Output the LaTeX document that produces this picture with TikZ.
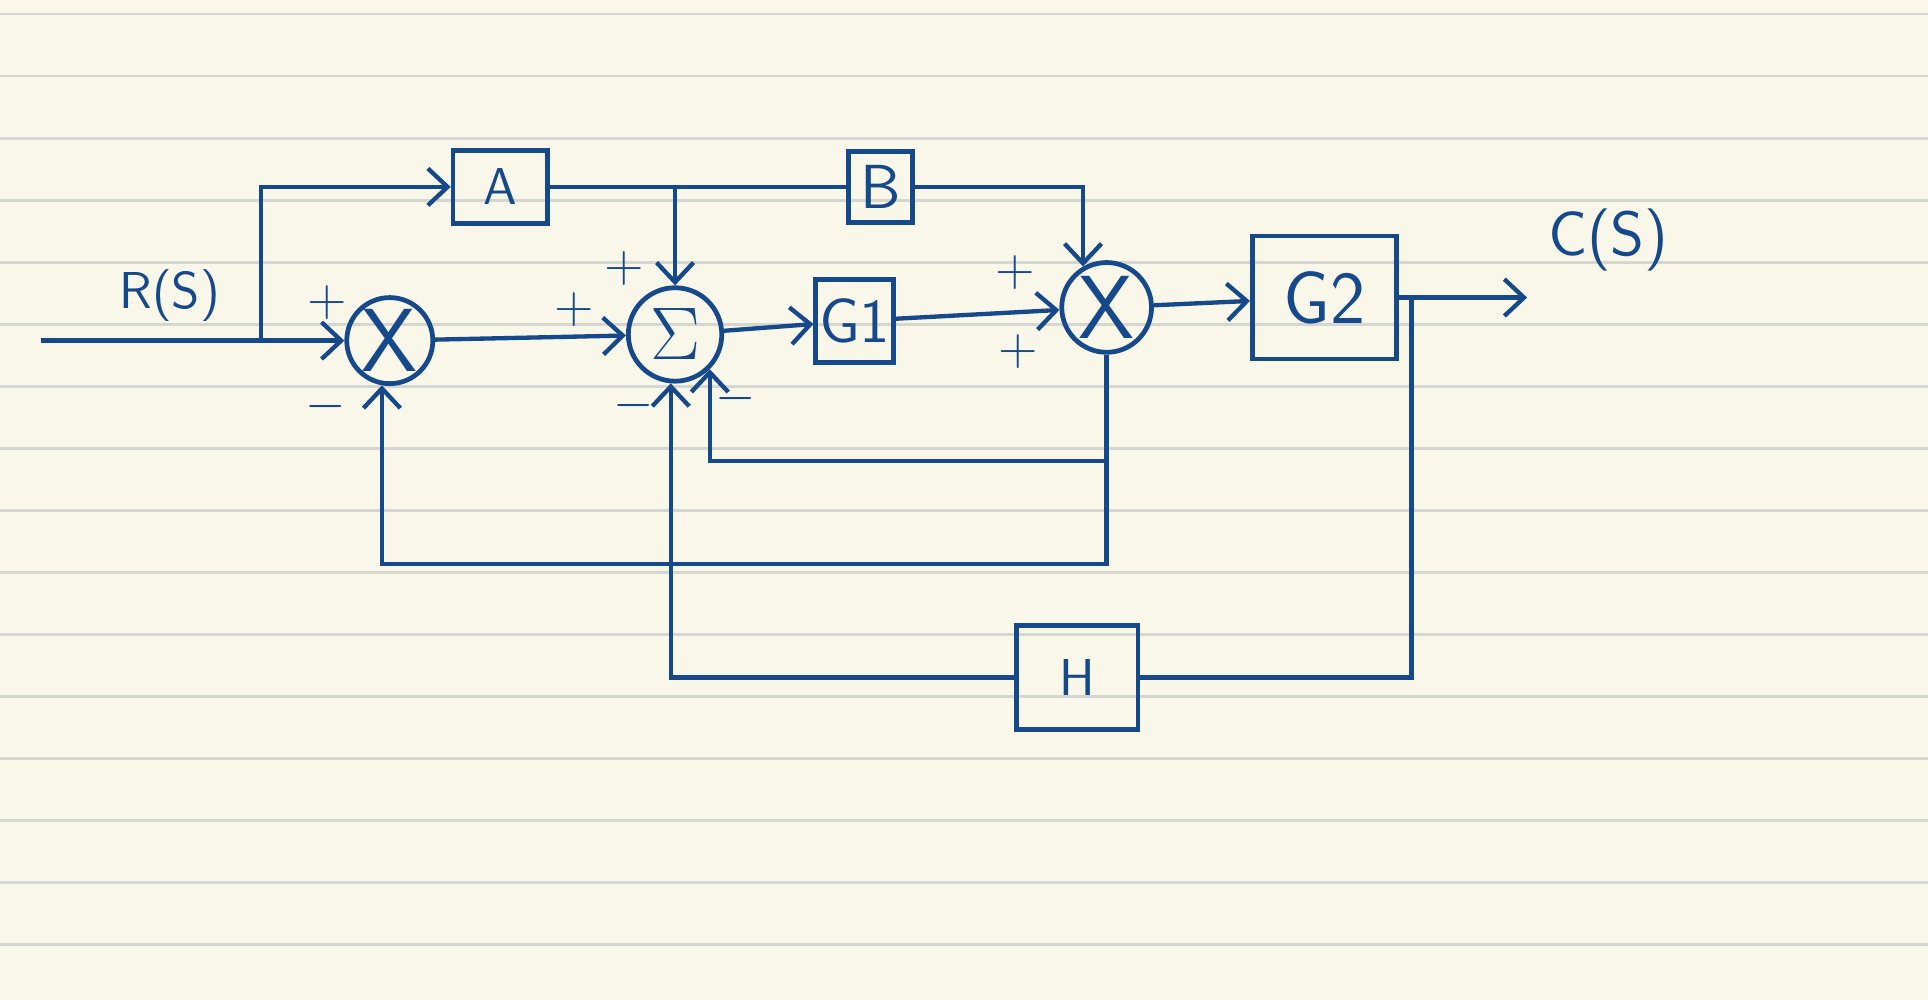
\documentclass[tikz,border=0pt]{standalone}
\usepackage{tikz}
\usetikzlibrary{arrows.meta,positioning}
\definecolor{ink}{RGB}{22,72,140}
\definecolor{paper}{RGB}{249,247,234}
\definecolor{ruling}{RGB}{214,214,208}
\tikzset{
  block/.style={draw,line width=1.1pt,rectangle,inner sep=0pt,font=\sffamily},
  junction/.style={draw,line width=1.1pt,circle,inner sep=0pt},
  sign/.style={font=\sffamily\large,inner sep=0pt},
  signal/.style={font=\sffamily,inner sep=0pt}
}
\begin{document}
\begin{tikzpicture}[>={Straight Barb[length=1.6mm,width=3mm]},line width=1pt,color=ink]
  % paper
  \useasboundingbox (0,0) rectangle (15.68,-8.13);
  \fill[paper] (0,0) rectangle (15.68,-8.13);
  \foreach \k in {0,...,15}
    \draw[ruling,line width=0.6pt] (0,{-0.115-0.5045*\k}) -- (15.68,{-0.115-0.5045*\k});

  % junctions and blocks
  \node[junction,minimum size=7mm,font=\sffamily\huge]  (mult1) at (3.17,-2.77) {X};
  \node[junction,minimum size=7.6mm,font=\LARGE]        (sigma) at (5.49,-2.72) {$\Sigma$};
  \node[junction,minimum size=7.3mm,font=\sffamily\huge] (mult2) at (9.00,-2.50) {X};
  \node[block,minimum width=7.7mm,minimum height=5.9mm,font=\sffamily\large] (a) at (4.07,-1.52) {A};
  \node[block,minimum width=5.2mm,minimum height=5.8mm,font=\sffamily\Large] (b) at (7.16,-1.52) {B};
  \node[block,minimum width=6.3mm,minimum height=6.7mm,font=\sffamily\Large] (g1) at (6.95,-2.61) {G1};
  \node[block,minimum width=11.7mm,minimum height=10mm,font=\sffamily\LARGE] (g2) at (10.77,-2.42) {G2};
  \node[block,minimum width=9.9mm,minimum height=8.5mm,font=\sffamily\large] (h) at (8.76,-5.51) {H};

  % signals
  \coordinate (in)   at (0.33,-2.77);
  \coordinate (rtap) at (2.12,-2.77);
  \coordinate (out)  at (12.42,-2.42);
  \coordinate (otap) at (11.48,-2.42);
  \coordinate (atap) at (sigma |- a.east);
  \coordinate (innery) at (0,-3.75);
  \coordinate (fbtap) at (mult2.south |- innery);
  \node[signal] (rs) at (1.38,-2.40) {\large R(S)};
  \node[signal] (cs) at (13.08,-1.95) {\Large C(S)};

  % signs
  \node[sign] (p1) at (2.66,-2.46) {+};
  \node[sign] (m1) at (2.65,-3.31) {$-$};
  \node[sign] (p2) at (4.67,-2.52) {+};
  \node[sign] (p3) at (5.08,-2.18) {+};
  \node[sign] (m2) at (5.15,-3.30) {$-$};
  \node[sign] (m3) at (5.98,-3.24) {$-$};
  \node[sign] (p4) at (8.26,-2.22) {+};
  \node[sign] (p5) at (8.28,-2.86) {+};

  % forward path
  \draw[->] (in) -- (mult1);
  \draw[->] (rtap) |- (a.west);
  \draw (a.east) -- (b.west);
  \draw[->] (atap) -- (sigma.north);
  \draw[->] (b.east) -| (mult2.120);
  \draw[->] (mult1) -- (sigma);
  \draw[->] (sigma) -- (g1);
  \draw[->] (g1) -- (mult2);
  \draw[->] (mult2) -- (g2);
  \draw[->] (g2.east) -- (out);

  % feedback paths
  \draw (otap) |- (h.east);
  \draw[->] (h.west) -| (sigma.265);
  \draw[->] (mult2.south) -- ++(0,-1.7) -| (mult1.260);
  \draw[->] (fbtap) -| (sigma.315);
\end{tikzpicture}
\end{document}
